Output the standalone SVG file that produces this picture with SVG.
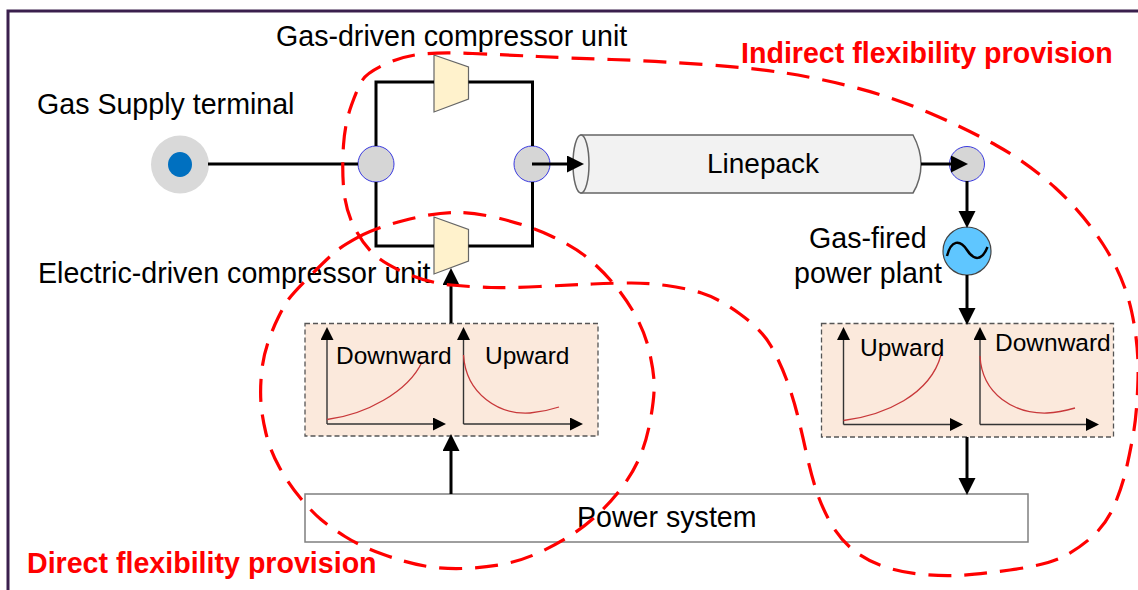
<svg xmlns="http://www.w3.org/2000/svg" width="1138" height="590" viewBox="0 0 1138 590">
<style>
text{font-family:"Liberation Sans",Arial,sans-serif;font-size:28.6px;fill:#000}
.sm{font-size:24.5px}
.red{font-weight:bold;fill:#f00}
.pipe{fill:none;stroke:#000;stroke-width:3}
.flow{fill:none;stroke:#000;stroke-width:3;marker-end:url(#big)}
.axis{fill:none;stroke:#333;stroke-width:1.4;marker-end:url(#small)}
.curve{fill:none;stroke:#c8383a;stroke-width:1.3}
.junction{fill:#d6d6d6;stroke:#3a3ae0;stroke-width:1}
.comp{fill:#fff2cc;stroke:#666;stroke-width:1.2}
.panel{fill:#fbe9dc;stroke:#555;stroke-width:1.3;stroke-dasharray:5 3}
.loop{fill:none;stroke:#f00;stroke-width:3.2;stroke-dasharray:23 13}
</style>
<defs>
<marker id="big" markerUnits="userSpaceOnUse" markerWidth="18" markerHeight="18" refX="9" refY="8.5" orient="auto"><path d="M0,0L17,8.5L0,17Z" fill="#000"/></marker>
<marker id="small" markerUnits="userSpaceOnUse" markerWidth="14" markerHeight="14" refX="8" refY="6.5" orient="auto"><path d="M0,0L13,6.5L0,13Z" fill="#000"/></marker>
</defs>
<path d="M8,590V11H1138" fill="none" stroke="#3a1f4d" stroke-width="3"/>
<g id="gas-supply-terminal">
<ellipse cx="180" cy="164.5" rx="29" ry="29" fill="#d9d9d9"/>
<ellipse cx="180" cy="164.5" rx="12" ry="12.5" fill="#0070c0"/>
<text x="37" y="114">Gas Supply terminal</text>
</g>
<g id="junction-left"><circle class="junction" cx="376" cy="164" r="18"/></g>
<g id="junction-mid"><circle class="junction" cx="532" cy="164" r="18"/></g>
<g id="gas-compressor">
<path class="comp" d="M434,55L468.5,67V99L434,112Z"/>
<text x="276" y="46">Gas-driven compressor unit</text>
</g>
<g id="electric-compressor">
<path class="comp" d="M434,217L468.5,229.5V261L434,274Z"/>
<text x="38" y="283">Electric-driven compressor unit</text>
</g>
<g id="linepack">
<path d="M581,135H913Q921,150 921,164Q921,180 913,193H581Z" fill="#f2f2f2" stroke="#666" stroke-width="1.5"/>
<ellipse cx="581" cy="164" rx="8" ry="29" fill="#f2f2f2" stroke="#666" stroke-width="1.5"/>
<text x="707" y="172.5" style="font-size:28px">Linepack</text>
</g>
<g id="junction-right"><circle class="junction" cx="967" cy="164" r="17.5"/></g>
<g id="gas-fired-plant">
<circle cx="967" cy="251" r="24" fill="#5fc6ff" stroke="#444" stroke-width="1.2"/>
<path d="M947,256C951,240 960,239 967,250C974,261 982,261 987.5,247" fill="none" stroke="#000" stroke-width="2.5"/>
<text x="809" y="248">Gas-fired</text>
<text x="794" y="283">power plant</text>
</g>
<g id="panel-left">
<rect class="panel" x="305" y="323.5" width="293" height="112.5"/>
<path class="axis" d="M327,424V332"/>
<path class="axis" d="M327,424H441"/>
<path class="axis" d="M463.5,424V332"/>
<path class="axis" d="M463.5,424H578"/>
<path class="curve" d="M327,419.5C365,415 408,392 422,362"/>
<path class="curve" d="M463.5,355C466,395 500,415 530,413C542,412 550,410 559,407"/>
<text class="sm" x="336" y="364">Downward</text>
<text class="sm" x="485" y="364">Upward</text>
</g>
<g id="panel-right">
<rect class="panel" x="821.5" y="323.5" width="292" height="113.5"/>
<path class="axis" d="M843.5,424.5V332"/>
<path class="axis" d="M843.5,424.5H958"/>
<path class="axis" d="M980,424.5V332"/>
<path class="axis" d="M980,424.5H1094"/>
<path class="curve" d="M843.5,420.5C885,415 930,395 941,355"/>
<path class="curve" d="M980,356C982,395 1015,414 1047,413C1057,412.5 1066,410.5 1075,408"/>
<text class="sm" x="860" y="355.5">Upward</text>
<text class="sm" x="995" y="351">Downward</text>
</g>
<g id="power-system">
<rect x="305" y="494" width="723" height="48" fill="#fff" stroke="#7f7f7f" stroke-width="1.5"/>
<text x="577" y="527">Power system</text>
</g>
<g id="connectors">
<path class="pipe" d="M208,164H358"/>
<path class="pipe" d="M376,146V82H434M468.5,82H532.5V146"/>
<path class="pipe" d="M376,182V246H434M468.5,246H532.5V182"/>
<path class="flow" d="M532,164H576"/>
<path class="flow" d="M921,164H960"/>
<path class="flow" d="M967,181V220"/>
<path class="flow" d="M967,275V317"/>
<path class="flow" d="M967,437V487"/>
<path class="flow" d="M451,494V442"/>
<path class="flow" d="M451,323V276"/>
</g>
<g id="flex-loops">
<path class="loop" d="M362.5,80Q367,73 383.5,65Q400,57 418,54.5Q436,52 472.5,53.5Q509,55 538,56.5Q567,58 611.5,59.5Q656,61 704,64.5Q752,68 785,73Q818,78 855,87.5Q892,97 928.5,112.5Q965,128 996.5,145.5Q1028,163 1055.5,188Q1083,213 1103.5,245Q1124,277 1131.5,311Q1139,345 1138,379Q1137,413 1133.5,433Q1130,453 1126,470Q1122,487 1114.5,505Q1107,523 1093.5,535.5Q1080,548 1063.5,556.5Q1047,565 1010,570Q973,575 955,575.5Q937,576 918.5,574Q900,572 882.5,566Q865,560 851.5,548.5Q838,537 829,520Q820,503 815,486.5Q810,470 806,451.5Q802,433 797.5,415Q793,397 786.5,379.5Q780,362 771,346Q762,330 740,314Q718,298 701.5,293Q685,288 666.5,285.5Q648,283 631.5,283Q615,283 592.5,284Q570,285 539.5,286.5Q509,288 491,287.5Q473,287 451,285Q429,283 405.5,273Q382,263 371,251.5Q360,240 352.5,223.5Q345,207 343.5,187Q342,167 343.5,145Q345,123 351.5,105Q358,87 362.5,80Z"/>
<path class="loop" d="M359.5,236.5Q375,228 404,220.5Q433,213 453,212.5Q473,212 500,218.5Q527,225 551,236Q575,247 589.5,259.5Q604,272 615.5,286Q627,300 636,316.5Q645,333 649,350Q653,367 654,380Q655,393 651,416.5Q647,440 640,456.5Q633,473 621.5,488Q610,503 596.5,515.5Q583,528 566.5,538Q550,548 533.5,555Q517,562 498.5,565Q480,568 461.5,568.5Q443,569 425,566Q407,563 383.5,554.5Q360,546 345,536.5Q330,527 321,519.5Q312,512 300,497.5Q288,483 279,466.5Q270,450 266,433.5Q262,417 261,403.5Q260,390 261.5,373.5Q263,357 268,342.5Q273,328 278,318Q283,308 287,301.5Q291,295 311,275Q331,255 337.5,250Q344,245 359.5,236.5Z"/>
</g>
<g id="flex-labels">
<text class="red" x="741" y="63">Indirect flexibility provision</text>
<text class="red" x="27" y="573">Direct flexibility provision</text>
</g>
</svg>
